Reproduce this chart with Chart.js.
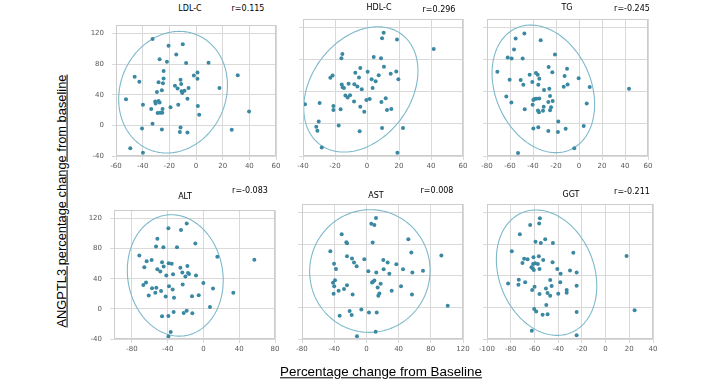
<!DOCTYPE html>
<html><head><meta charset="utf-8">
<script src="https://cdn.jsdelivr.net/npm/chart.js@4.4.1/dist/chart.umd.min.js"></script>
<style>
html,body{margin:0;padding:0;background:#fff;width:720px;height:385px;overflow:hidden;position:relative;font-family:'DejaVu Sans',sans-serif;}
canvas{position:absolute;}
.t{position:absolute;transform:translate(-50%,-50%);white-space:nowrap;font-family:'DejaVu Sans',sans-serif;font-size:8px;color:#000;line-height:1;}
.ax{position:absolute;white-space:nowrap;text-decoration:underline;color:#000;font-family:'Liberation Sans',sans-serif;line-height:1;transform:translate(-50%,-50%);}
</style></head><body>
<script>
// ---------------- DATA ----------------
const panelNames = ['LDL-C','HDL-C','TG','ALT','AST','GGT'];
const rLabels = ['r=0.115','r=0.296','r=-0.245','r=-0.083','r=0.008','r=-0.211'];
const rValues = [0.115, 0.296, -0.245, -0.083, 0.008, -0.211];
const yTickValues = [-40, 0, 40, 80, 120];
const yMin = -40, yMax = 131;

const xTicksLDL = [-60,-40,-20,0,20,40,60];
const xTicksHDL = [-40,-20,0,20,40,60];
const xTicksTG  = [-80,-60,-40,-20,0,20,40,60];
const xTicksALT = [-80,-40,0,40,80];
const xTicksAST = [-80,-40,0,40,80,120];
const xTicksGGT = [-100,-80,-60,-40,-20,0,20,40];
const xRanges = [[-60,60],[-40,60],[-80,60],[-100,80],[-80,120],[-100,40]];

const ldlX = [-32.6,-20.6,-9.9,-14.8,-27.3,-21.8,-7.4,9.4,-24.3,-46,-42.5,-24.3,-28.1,-24.8,-11.6,-11.1,-1.6,1.1,1.1,31.3,-15.8,-13.8,-5.6,-8.6,-10.8,-10.3,-29.3,-25.6,17.6,-52.5,-6.4,-39.8,-30.6,-28.1,-27.3,-30.3,-33.6,-25.1,-19.1,-13.3,1.4,2.4,-28.8,-26.8,-25.3,39.8,-32.6,-40.5,-25.6,-11.6,-12.1,-6.4,26.8,-49.3,-39.8];
const ldlY = [112.9,104.1,106.2,92.8,86.5,83.1,81.5,81.9,71,63.5,57.2,61.4,56.3,55.1,59.7,54.2,65.1,69.3,60.9,65.5,51.7,48.4,48.8,45.4,44.6,42.5,43.8,45.9,48.8,34.1,35,27,31.2,32,29.9,28.7,21.6,21.6,23.7,27,25.3,14,16.1,16.5,16.5,18.2,2.3,-4,-5.2,-2.7,-8.6,-9.4,-5.7,-30,-35.8];

const hdlX = [10.4,9.4,18.75,41.7,-15.4,-16,4.2,8.75,10.6,-4.2,0.4,-7.3,18.3,14.8,7.3,-21.5,-22.9,-5,2.9,5.4,19.6,-15.8,-15.2,-14.4,-11.5,-7.9,-6,-3.3,3.5,-13.5,-12.1,-10.6,-8.1,-0.4,1.7,11.7,9,-38.75,-29.6,-21,-21,-16.5,-4.2,-1.7,12.5,15.2,-30.2,-31.7,-31,-17.7,-4.6,9.4,22.5,-28.3,19];
const hdlY = [113.7,107,105.3,93.6,87.3,81.9,83.6,81.9,71.4,69.7,65.1,63.9,65.5,62.6,60.9,60.5,57.6,58,55.9,53.4,55.9,49.2,45.9,45,50.1,49.6,46.7,43.4,45,35.4,32.9,35.8,27.9,30,31.2,32,27.4,24.5,26.2,22.4,17.4,18.2,21.6,15.3,17.4,18.6,3.1,-3.6,-8.6,-1.9,-9,-5.2,-5.2,-29.5,-35.8];

const tgX = [-47.5,-55.1,-33.3,-56.5,-62,-58.6,-49,-20.9,-71,-26.4,-10.4,-23.2,-37.4,-35.9,-42.9,-12.5,-60.3,-50.7,-40.6,-34.5,-48.4,-35.4,-9.9,-13.3,-0.3,9.3,43.5,-30.4,-25.8,-63.2,-25.2,-38.8,-37.1,-34.5,-39.7,-58.8,-40.3,-26.7,-22.9,-30.7,-24.3,-47.2,-35.7,-34.8,-31.3,-25.2,6.7,-18,4.1,-39.7,-35.4,-26.7,-18.3,-11.6,-4.1,-53];
const tgY = [112.9,106.6,104.5,92.8,82.8,81.6,81.6,86.6,65.3,71.1,69,64.4,63.6,61.5,61.5,59.8,55.3,54.8,52.3,56.5,49,49,49.4,46.5,56.9,46.1,44,42.3,44,34.4,34.8,31,31.4,31.9,29.8,26.8,23.9,27.3,28.5,21.4,21,18.5,16.8,14.7,16.4,17.2,25.6,3,-2.4,-5.7,-4.1,-8.7,-9.9,-6.1,-30.4,-36.2];

const altX = [-18.7,-39.2,-25.1,-51.5,-53,-44.8,-29.6,-9.1,-71.7,-57.9,-63.5,-46.3,-38.9,-35.5,-44.5,-66.1,-51.5,-48.2,-25.8,-18,-23.6,-17.3,-16.1,-20.2,-41.5,-34,-8.3,15.5,56.9,-64.2,-67.2,-57.5,-52.7,-53.8,-47.4,-38.5,-34.4,-23.2,-0.1,10.7,-61.2,-42.2,-32.9,-12.8,-5.3,33.4,7.3,-46.3,-39.2,-33.3,-22.1,-18.7,-12.4,-36.6,-39.2];
const altY = [113.3,106.9,104.8,93.1,82.9,81.7,81.7,86.7,70.7,64.8,63.2,61.9,60.6,59.8,56.4,55.2,52.6,49.7,54.7,56.8,48.4,47.6,46.3,42.9,44.2,45.9,44.2,69.1,65.3,34.9,31.6,27.4,28.2,21.5,23.6,29.9,25.7,32.4,34.5,26.9,17.7,16.4,14.7,16.8,18.1,21.5,2.5,-9.7,-9.3,-4.2,-5.5,-2.5,-5.9,-30.7,-36.6];

const astX = [11.9,6.1,9.9,-30.7,52.1,-24.9,-24.1,7.8,55.8,-44.8,93.1,-24.1,-17.9,-15.4,-12.1,-2.6,21,26.4,37.2,-40.2,-37.8,2.4,12.3,21.4,28.5,45.5,57.1,70.3,-39,-41.5,-40,-24.1,8.2,9.9,7,17.7,14,43,-40.7,-34.5,-27.8,-17.1,16.1,14.8,31.4,56.6,101,-6.3,-20.8,-18.3,-33.2,3.2,12.8,11.5,-11.7];
const astY = [113.3,106.1,104.4,92.6,86.3,82.5,81.3,82.1,69.5,71.2,65.7,64.8,61.9,56.8,52.2,61.1,60.2,56.8,54.7,55.2,48.8,45.9,44.2,48.4,42.5,48.4,44.2,46.3,34.5,31.2,26.9,28.2,32.4,34.1,31.6,29.9,25.3,26.9,17.3,21.1,23.2,16.4,17.7,14.7,21.1,16.4,2.1,-2.5,-4.6,-9.7,-10.5,-6.3,-6.3,-30.7,-36.6];

const ggtX = [-55.4,-56,-63.6,-72.3,-59.1,-50.9,-54.6,-44.4,-79.1,-27.2,17.7,-68.7,-65.8,-60.8,-56.3,-52.6,-70.1,-61.1,-59.4,-57.1,-44.7,-62.5,-61.6,-60.5,-55.7,-40.7,-37.9,-30,-24.4,-82.2,-73.2,-73.5,-67.8,-59.9,-61.9,-46.7,-38.2,-45.5,-50.3,-48.9,-46.7,-55.7,-39.9,-32.8,-32.8,-24.4,-50,-60.2,-58.5,-53.1,-48.9,-24.4,24.5,-62.2,-24.4];
const ggtY = [112.9,106.2,104.5,92.8,83.1,86.5,81.5,81.5,71,69.3,65.1,61.8,60.9,63.5,64.7,60.1,56.3,55.1,55.9,55.1,57.2,50.9,49.6,47.5,48.8,48.8,42.5,46.7,44.2,30.4,35,28.7,32,26.2,22,34.6,32,27,24.1,18.2,14.9,17,17.4,22,18.6,27.4,3.1,-1.9,-5.2,-9.4,-8.6,-5.7,-3.6,-29.5,-35.4];

// ellipse parameters in data units: centre x, centre y, half-width (x), half-height (y)
const ellipseCX = [-17.2, -3.85, -31, -31.5, 4.3, -49.75];
const ellipseCY = [43.4, 43.1, 43.8, 44.4, 46.1, 44];
const ellipseAX = [40.8, 35.7, 44.6, 53.6, 74.8, 42.35];
const ellipseBY = [79.5, 78.2, 79.6, 80.6, 77.7, 79.4];

const allX = [ldlX, hdlX, tgX, altX, astX, ggtX];
const allY = [ldlY, hdlY, tgY, altY, astY, ggtY];
const allXTicks = [xTicksLDL, xTicksHDL, xTicksTG, xTicksALT, xTicksAST, xTicksGGT];

// ---------------- LAYOUT / STYLE ----------------
const boxes = [
  {l:116, t:19, w:160, h:137},
  {l:303, t:19, w:160, h:137},
  {l:487, t:19, w:161, h:137},
  {l:114, t:204, w:161, h:135},
  {l:302, t:204, w:161, h:135},
  {l:487, t:204, w:166, h:135}
];
const titlePos = [[190,8.5],[379,7.5],[567,8],[185,196.5],[376,196],[571,194.5]];
const rPos = [[248,9],[439,9.5],[632,9],[250,191],[437,191],[632,191.5]];
const POINT_COLOR = '#3a88a2';
const ELLIPSE_COLOR = '#7db9ca';
const GRID_COLOR = '#d9d9d9';
const FRAME_COLOR = '#cccccc';
const TICK_COLOR = '#595959';

Chart.defaults.font.family = "'DejaVu Sans', sans-serif";

const framePlugin = {
  id: 'frameEllipse',
  beforeDatasetsDraw(chart, args, opts) {
    const ctx = chart.ctx, a = chart.chartArea;
    const xs = chart.scales.x, ys = chart.scales.y;
    ctx.save();
    ctx.beginPath();
    ctx.rect(a.left, a.top, a.right - a.left, a.bottom - a.top);
    ctx.clip();
    ctx.beginPath();
    const d = Math.acos(opts.r);
    const N = 240;
    for (let k = 0; k <= N; k++) {
      const t = 2 * Math.PI * k / N;
      const px = xs.getPixelForValue(opts.cx + opts.ax * Math.cos(t));
      const py = ys.getPixelForValue(opts.cy + opts.by * Math.cos(t - d));
      if (k === 0) ctx.moveTo(px, py); else ctx.lineTo(px, py);
    }
    ctx.closePath();
    ctx.strokeStyle = ELLIPSE_COLOR;
    ctx.lineWidth = 1.1;
    ctx.stroke();
    ctx.restore();
  },
  afterDraw(chart) {
    const ctx = chart.ctx, a = chart.chartArea;
    ctx.save();
    ctx.strokeStyle = FRAME_COLOR;
    ctx.lineWidth = 1;
    ctx.strokeRect(Math.round(a.left) + 0.5, Math.round(a.top) + 0.5, Math.round(a.right - a.left) - 1, Math.round(a.bottom - a.top) - 1);
    ctx.restore();
  }
};

const PL = 45, PT = 6, PR = 12, PB = 24;

for (let i = 0; i < 6; i++) {
  const b = boxes[i];
  const cv = document.createElement('canvas');
  cv.width = b.w + PL + PR; cv.height = b.h + PT + PB;
  cv.style.left = (b.l - PL) + 'px'; cv.style.top = (b.t - PT) + 'px';
  cv.style.width = cv.width + 'px'; cv.style.height = cv.height + 'px';
  document.body.appendChild(cv);
  const xt = allXTicks[i];
  const showY = (i % 3 === 0);
  new Chart(cv, {
    type: 'scatter',
    data: { datasets: [{
      data: allX[i].map((x, k) => ({x: x, y: allY[i][k]})),
      pointRadius: 2, pointHoverRadius: 2,
      pointBackgroundColor: POINT_COLOR, pointBorderWidth: 0, borderWidth: 0
    }]},
    options: {
      responsive: false, animation: false, devicePixelRatio: 1,
      layout: { padding: { left: 0, top: PT, right: PR, bottom: 0 } },
      plugins: {
        legend: { display: false }, tooltip: { enabled: false },
        frameEllipse: { cx: ellipseCX[i], cy: ellipseCY[i], ax: ellipseAX[i], by: ellipseBY[i], r: rValues[i] }
      },
      scales: {
        x: {
          type: 'linear', min: xRanges[i][0], max: xRanges[i][1],
          afterBuildTicks: s => { s.ticks = xt.map(v => ({ value: v })); },
          afterFit: s => { s.height = PB; },
          ticks: { autoSkip: false, maxRotation: 0, minRotation: 0, font: { size: 7 }, color: TICK_COLOR, padding: 2 },
          grid: { color: GRID_COLOR, tickLength: 4, drawTicks: true },
          border: { color: GRID_COLOR }
        },
        y: {
          type: 'linear', min: yMin, max: yMax,
          afterBuildTicks: s => { s.ticks = yTickValues.map(v => ({ value: v })); },
          afterFit: s => { s.width = PL; },
          ticks: { display: showY, font: { size: 7 }, color: TICK_COLOR, padding: 8 },
          grid: { color: GRID_COLOR, tickLength: 4, drawTicks: true },
          border: { color: GRID_COLOR }
        }
      }
    },
    plugins: [framePlugin]
  });
  const tt = document.createElement('div');
  tt.className = 't'; tt.textContent = panelNames[i];
  tt.style.left = titlePos[i][0] + 'px'; tt.style.top = titlePos[i][1] + 'px';
  document.body.appendChild(tt);
  const rt = document.createElement('div');
  rt.className = 't'; rt.textContent = rLabels[i];
  rt.style.left = rPos[i][0] + 'px'; rt.style.top = rPos[i][1] + 'px';
  document.body.appendChild(rt);
}

// axis titles, sized to the reference text lengths
function fitSize(text, target) {
  const c = document.createElement('canvas').getContext('2d');
  c.font = "100px 'Liberation Sans'";
  return 100 * target / c.measureText(text).width;
}
const yTitle = 'ANGPTL3 percentage change from baseline';
const xTitle = 'Percentage change from Baseline';
const yt = document.createElement('div');
yt.className = 'ax'; yt.textContent = yTitle;
yt.style.fontSize = fitSize(yTitle, 253).toFixed(2) + 'px';
yt.style.left = '62px'; yt.style.top = '201px';
yt.style.transform = 'translate(-50%,-50%) rotate(-90deg)';
document.body.appendChild(yt);
const xtl = document.createElement('div');
xtl.className = 'ax'; xtl.textContent = xTitle;
xtl.style.fontSize = fitSize(xTitle, 202).toFixed(2) + 'px';
xtl.style.left = '381px'; xtl.style.top = '372px';
document.body.appendChild(xtl);
</script>
</body></html>
